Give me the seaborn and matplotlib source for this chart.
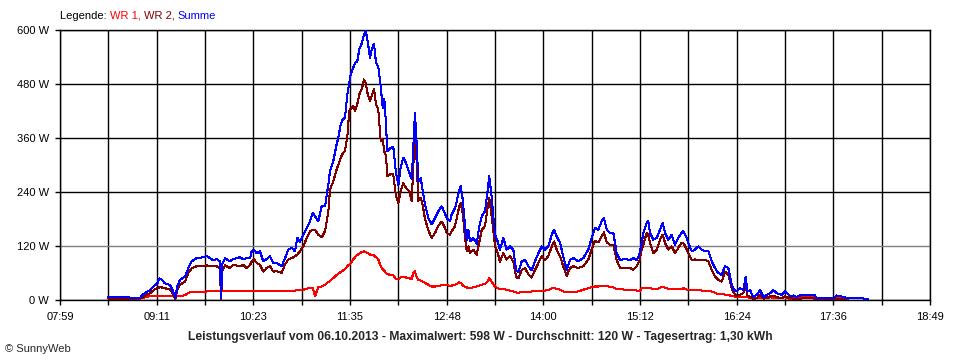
import numpy as np
import pandas as pd
import matplotlib
matplotlib.use('Agg')
import matplotlib.pyplot as plt
import seaborn as sns

# Zeitpunkte (Minuten seit Mitternacht) und Leistung in W
minutes = [515.1, 523.8, 533.8, 538.8, 541.2, 546.2, 550.0, 551.7, 553.2, 555.0,
           557.4, 561.2, 564.2, 565.1, 566.6, 568.7, 572.4, 574.9, 577.4, 581.1,
           586.1, 588.6, 593.5, 596.1, 598.5, 599.3, 600.3, 602.3, 606.0, 608.5,
           613.5, 616.0, 618.5, 621.0, 622.2, 623.9, 626.0, 628.4, 630.9, 633.4,
           635.9, 638.4, 640.9, 644.6, 647.1, 649.6, 652.1, 654.6, 656.3, 658.3,
           660.8, 663.3, 665.8, 667.8, 669.5, 672.0, 674.5, 677.0, 679.5, 680.7,
           683.2, 685.7, 686.9, 688.7, 690.2, 691.9, 693.7, 695.1, 696.2, 698.1,
           699.4, 701.1, 702.6, 704.4, 706.1, 707.4, 708.9, 710.6, 711.9, 713.6,
           715.1, 716.8, 718.6, 720.1, 721.3, 722.6, 723.5, 725.5, 728.0, 730.0,
           731.8, 733.5, 735.5, 737.5, 740.0, 741.8, 743.0, 744.2, 745.5, 746.7,
           748.5, 750.0, 751.7, 754.2, 756.7, 759.2, 761.6, 764.2, 765.9, 767.9,
           770.4, 771.6, 774.1, 775.4, 777.3, 778.4, 779.9, 781.6, 782.9, 784.1,
           785.3, 787.8, 790.3, 792.3, 794.1, 796.5, 798.3, 799.7, 801.5, 802.7,
           804.0, 805.7, 807.7, 810.2, 812.7, 815.2, 817.7, 819.7, 821.4, 824.0,
           826.4, 828.9, 831.4, 833.9, 836.4, 838.9, 841.4, 843.8, 846.4, 848.1,
           850.1, 852.6, 855.0, 857.6, 860.0, 862.5, 866.2, 870.0, 873.7, 876.2,
           878.7, 881.2, 883.7, 885.4, 887.5, 889.9, 892.4, 894.9, 897.4, 901.1,
           904.9, 907.3, 909.9, 911.8, 913.6, 914.8, 917.3, 918.5, 919.8, 922.3,
           924.8, 927.3, 929.3, 931.0, 933.5, 936.0, 938.5, 941.0, 943.5, 944.7,
           946.7, 948.4, 951.0, 953.4, 955.9, 958.4, 960.9, 963.4, 965.9, 968.4,
           970.8, 973.4, 975.8, 978.3, 980.8, 982.6, 984.6, 987.0, 989.5, 991.3,
           992.5, 994.5, 997.0, 999.5, 1002.0, 1004.5, 1007.0, 1009.5, 1011.9, 1014.5,
           1018.2, 1020.7, 1024.4, 1026.9, 1029.4, 1031.9, 1035.6, 1039.3, 1043.1, 1044.3,
           1056.8, 1059.3, 1064.2, 1068.0, 1069.2, 1076.7, 1080.4, 1082.5]

summe = [6, 7, 5, 5, 13, 22, 33, 37, 48, 45,
         37, 33, 15, 4, 30, 45, 52, 71, 86, 93,
         95, 98, 88, 91, 86, 5, 80, 93, 86, 91,
         95, 90, 93, 93, 108, 112, 104, 108, 86, 91,
         97, 82, 82, 75, 93, 112, 116, 108, 138, 130,
         145, 160, 175, 194, 186, 175, 208, 208, 257, 286,
         309, 346, 360, 390, 401, 405, 457, 483, 501, 516,
         527, 530, 557, 570, 590, 598, 575, 538, 557, 570,
         527, 519, 475, 427, 446, 390, 330, 337, 340, 283,
         255, 294, 316, 305, 283, 268, 342, 416, 346, 264,
         271, 242, 212, 182, 168, 182, 197, 208, 197, 182,
         175, 190, 204, 219, 245, 253, 223, 164, 133, 156,
         130, 138, 125, 164, 186, 197, 238, 275, 230, 186,
         145, 133, 112, 138, 112, 119, 112, 67, 62, 86,
         89, 75, 66, 86, 104, 119, 112, 119, 145, 156,
         141, 127, 97, 67, 89, 93, 86, 93, 112, 138,
         160, 156, 175, 182, 156, 149, 149, 104, 89, 91,
         89, 93, 89, 101, 127, 149, 171, 175, 149, 134,
         138, 156, 171, 149, 134, 145, 123, 138, 150, 153,
         142, 127, 108, 112, 119, 112, 108, 108, 86, 71,
         60, 56, 75, 71, 34, 22, 19, 26, 22, 52,
         19, 22, 7, 11, 22, 7, 11, 15, 22, 15,
         11, 19, 9, 10, 7, 10, 12, 12, 10, 4,
         4, 10, 7, 4, 4, 4, 3, 3]

wr2 = [3, 3, 2, 3, 7, 15, 24, 26, 28, 28,
       26, 24, 9, 2, 22, 34, 41, 60, 71, 75,
       75, 77, 75, 75, 69, 0, 65, 77, 71, 78,
       75, 78, 71, 78, 85, 91, 82, 78, 63, 71,
       75, 63, 64, 60, 79, 90, 93, 97, 101, 108,
       119, 138, 153, 156, 156, 145, 139, 153, 197, 245,
       264, 290, 300, 316, 325, 331, 364, 420, 425, 431,
       420, 435, 457, 468, 490, 483, 457, 442, 453, 468,
       435, 423, 353, 357, 330, 320, 275, 279, 279, 231,
       215, 242, 260, 249, 242, 220, 301, 349, 308, 220,
       227, 210, 180, 155, 138, 149, 165, 174, 165, 149,
       145, 153, 164, 182, 208, 215, 193, 138, 108, 119,
       105, 112, 100, 130, 156, 164, 201, 227, 186, 156,
       120, 108, 85, 104, 90, 97, 85, 52, 48, 67,
       71, 57, 50, 67, 82, 97, 89, 97, 119, 130,
       112, 97, 75, 53, 71, 75, 71, 75, 90, 112,
       132, 128, 141, 150, 128, 123, 123, 89, 71, 71,
       71, 67, 75, 86, 112, 123, 149, 145, 127, 104,
       112, 134, 145, 127, 112, 119, 104, 116, 127, 127,
       116, 104, 89, 90, 89, 89, 89, 86, 67, 52,
       45, 41, 63, 56, 26, 15, 8, 12, 15, 35,
       10, 7, 2, 4, 12, 3, 4, 8, 10, 6,
       4, 8, 4, 3, 3, 3, 4, 4, 3, 1,
       0, 3, 2, 0, None, None, None, None]

wr1 = [3, 4, 4, 4, 5, 9, 8, 8, 8, 8,
       8, 8, 8, 8, 8, 8, 11, 16, 18, 18,
       18, 19, 19, 19, 19, 19, 19, 19, 19, 19,
       19, 19, 19, 19, 21, 21, 20, 19, 19, 19,
       19, 19, 19, 19, 19, 20, 21, 21, 22, 22,
       23, 25, 27, 27, 8, 29, 30, 34, 40, 42,
       49, 56, 58, 62, 65, 68, 75, 79, 82, 90,
       95, 100, 103, 107, 108, 107, 104, 101, 100, 99,
       95, 90, 75, 68, 65, 60, 58, 56, 55, 47,
       46, 50, 52, 50, 48, 47, 60, 64, 50, 45,
       43, 41, 38, 34, 30, 30, 31, 33, 34, 34,
       30, 32, 34, 36, 39, 38, 33, 29, 28, 27,
       27, 28, 30, 32, 34, 36, 40, 49, 41, 35,
       30, 27, 24, 24, 23, 21, 19, 17, 16, 18,
       18, 18, 19, 19, 20, 21, 21, 22, 26, 26,
       25, 23, 19, 17, 17, 18, 19, 23, 26, 29,
       30, 30, 32, 32, 31, 29, 28, 24, 24, 23,
       22, 22, 21, 19, 26, 26, 27, 26, 26, 25,
       24, 27, 30, 27, 25, 24, 24, 24, 25, 26,
       24, 22, 22, 22, 22, 21, 20, 20, 19, 16,
       13, 13, 12, 11, 9, 8, 7, 7, 7, 6,
       6, 5, 4, 5, 5, 4, 4, 6, 5, 4,
       5, 6, 2, 4, 4, 6, 8, 8, 6, 3,
       3, 6, 6, 4, None, None, None, None]

series_names = ['WR 1', 'WR 2', 'Summe']
series_colors = ['#ff0000', '#800000', '#0000ff']
y_ticks = [0, 120, 240, 360, 480, 600]
x_labels = ['07:59', '09:11', '10:23', '11:35', '12:48', '14:00', '15:12', '16:24', '17:36', '18:49']
title = 'Leistungsverlauf vom 06.10.2013 - Maximalwert: 598 W - Durchschnitt: 120 W - Tagesertrag: 1,30 kWh'

sns.set_style('white')
plt.rcParams['font.family'] = ['Liberation Sans', 'DejaVu Sans']
plt.rcParams['font.size'] = 8

df = pd.DataFrame({'t': minutes, 'WR 1': wr1, 'WR 2': wr2, 'Summe': summe})
long = df.melt(id_vars='t', var_name='series', value_name='W').dropna()
long['W'] = long['W'].astype(float)

fig = plt.figure(figsize=(9.6, 3.6), dpi=100)
ax = fig.add_axes([60 / 960, 60 / 360, 870 / 960, 270 / 360])

sns.lineplot(data=long, x='t', y='W', hue='series', hue_order=series_names,
             palette=dict(zip(series_names, series_colors)), estimator=None,
             linewidth=0.75, antialiased=False, legend=False, ax=ax, zorder=3)

ax.set_xlim(479, 1129)
ax.set_ylim(0, 600)
xt = np.linspace(479, 1129, 19)
ax.set_xticks(xt)
ax.set_xticklabels([x_labels[i // 2] if i % 2 == 0 else '' for i in range(19)])
ax.set_yticks(y_ticks)
ax.set_yticklabels([f'{v} W' for v in y_ticks])
ax.set_xlabel('')
ax.set_ylabel('')

# Gitter: senkrecht schwarz, waagrecht schwarz, 120 W grau
for x in xt:
    ax.axvline(x, color='black', lw=1.0, zorder=1)
for v in y_ticks:
    ax.axhline(v, color='#808080' if v == 120 else 'black', lw=1.0, zorder=1)
for s in ax.spines.values():
    s.set_color('black')
    s.set_linewidth(1.0)

ax.tick_params(axis='both', direction='out', length=3.8, width=1.0, color='black',
               labelsize=8, labelcolor='black', pad=4)
ax.tick_params(axis='x', bottom=True, pad=5)
ax.tick_params(axis='y', left=True)

fig.text(0.5, 1 - 337 / 360, title, ha='center', va='center', fontsize=8.7, fontweight='bold')
fig.text(5 / 960, 1 - 349 / 360, '© SunnyWeb', ha='left', va='center', fontsize=8)

# Legende oben als farbiger Text
fig.canvas.draw()
renderer = fig.canvas.get_renderer()
parts = [('Legende: ', 'black'), ('WR 1, ', series_colors[0]),
         ('WR 2, ', series_colors[1]), ('Summe', series_colors[2])]
x_px = 60
for txt, col in parts:
    t = fig.text(x_px / 960, 1 - 16 / 360, txt, ha='left', va='center', fontsize=8, color=col)
    bb = t.get_window_extent(renderer=renderer)
    x_px += bb.width

fig.savefig('out.png', dpi=100)
